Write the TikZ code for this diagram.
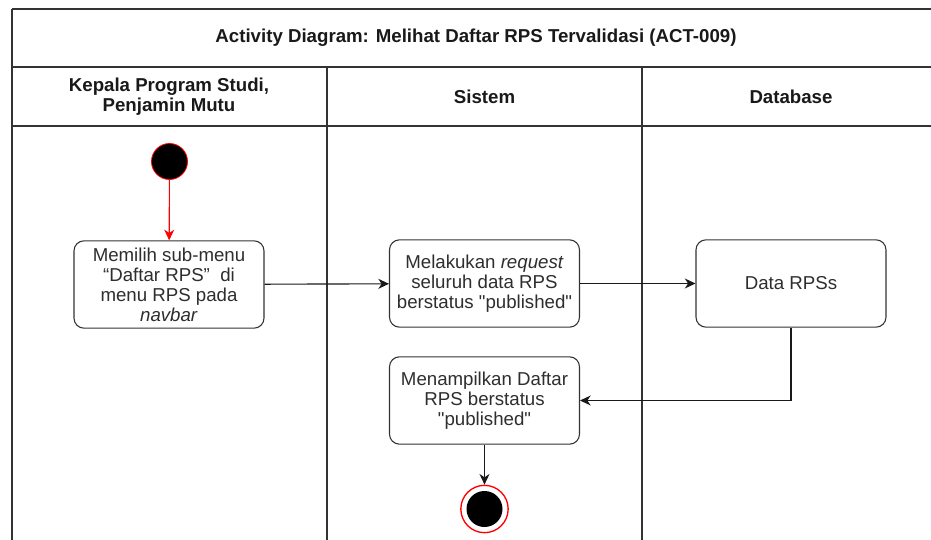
\documentclass[tikz,border=0pt]{standalone}
\usepackage{fontspec}
\setmainfont{Liberation Sans}
\usetikzlibrary{positioning, arrows.meta}
\colorlet{rule}{black!80}
\colorlet{ink}{black!82}
\definecolor{flowred}{RGB}{255,0,0}
\tikzset{
  act/.style     ={draw=rule, rounded corners=7.5pt, fill=white, align=center,
                   font=\fontsize{14}{15}\selectfont, text=ink,
                   minimum width=142.5pt, minimum height=65.5pt,
                   inner sep=1pt, line width=0.8pt},
  lane/.style    ={draw=rule, line width=1pt},
  head/.style    ={font=\bfseries\fontsize{14}{15}\selectfont, align=center,
                   text=black!90},
  flow/.style    ={-{Stealth[length=8pt, width=7.5pt, inset=2.5pt]},
                   black!90, line width=0.85pt},
  initial/.style ={circle, fill=black, draw=flowred, line width=0.6pt,
                   minimum size=27pt, inner sep=0pt},
  final/.style   ={circle, fill=white, draw=flowred, line width=1pt,
                   minimum size=35.5pt, inner sep=0pt,
                   path picture={\fill[black] (path picture bounding box.center)
                                 circle (13.5pt);}},
}
\newcommand{\qt}[1]{\textquotedbl#1\textquotedbl}

\begin{document}
\begin{tikzpicture}[x=0.75pt, y=-0.75pt]
\useasboundingbox (0,0) rectangle (931,539);
\clip (0,0) rectangle (931,539);

% swimlane frame
\draw[lane, line width=1.5pt] (12,9) -- (945,9);
\draw[lane] (12,9) -- (12,560);
\draw[lane] (12,67) -- (945,67);
\draw[lane] (12,126) -- (945,126);
\draw[lane] (327,67) -- (327,560);
\draw[lane] (642,67) -- (642,560);

\node[head] (title) at (476,38)
  {Activity Diagram: Melihat Daftar RPS Tervalidasi (ACT-009)};
\node[head] (hKaprodi) at (169,97) {Kepala Program Studi,\\Penjamin Mutu};
\node[head] (hSistem)  at (484.5,97) {Sistem};
\node[head] (hDb)      at (791,97) {Database};

% activities
\node[initial] (start) at (169.5,161.5) {};
\node[act] (pilih)    at (169,284.5)
  {Memilih sub-menu\\“Daftar RPS”\ \ di\\menu RPS pada\\\textit{navbar}};
\node[act] (request)  at (484.5,283.5)
  {Melakukan \textit{request}\\seluruh data RPS\\berstatus \qt{published}};
\node[act] (data)     at (791,283.5) {Data RPSs};
\node[act] (tampil)   at (484.5,400.5)
  {Menampilkan Daftar\\RPS berstatus\\\qt{published}};
\node[final] (end)    at (484.5,509) {};

% flows
\draw[flow, flowred] (start) -- (pilih);
\draw[flow] (pilih) -- (request);
\draw[flow] (request) -- (data);
\draw[flow] (data.south) |- (tampil.east);
\draw[flow] (tampil) -- (end);

\end{tikzpicture}
\end{document}
